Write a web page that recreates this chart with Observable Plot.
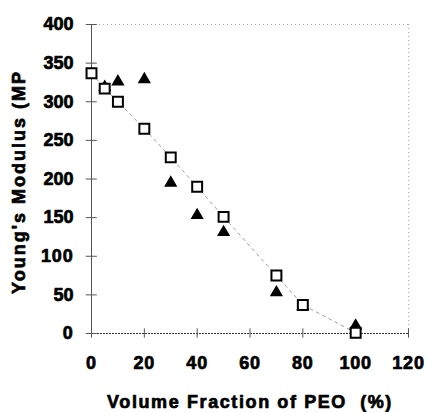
<!DOCTYPE html>
<html><head><meta charset="utf-8">
<script src="https://cdn.jsdelivr.net/npm/d3@7"></script>
<script src="https://cdn.jsdelivr.net/npm/@observablehq/plot@0.6"></script>
<style>body{margin:0;background:#fff}</style>
</head><body><div id="chart"></div>
<script>
const squareX = [0, 5, 10, 20, 30, 40, 50, 70, 80, 100];
const squareY = [337, 317, 300, 265, 228, 190, 151, 75, 37, 1];
const triX = [5, 10, 20, 30, 40, 50, 70, 80, 100];
const triY = [319, 326, 329, 195, 153, 131, 53, 35, 10];
const xTicks = [0, 20, 40, 60, 80, 100, 120];
const yTicks = [0, 50, 100, 150, 200, 250, 300, 350, 400];
const xTitle = "Volume Fraction of PEO  (%)";
const yTitle = "Young's Modulus (MP";

const squares = squareX.map((x, i) => ({x, y: squareY[i]}));
const tris = triX.map((x, i) => ({x, y: triY[i]}));
const font = "'Liberation Sans', Arial, sans-serif";
const txt = {fontSize: 18, fontWeight: "bold", fill: "#000", stroke: "#000", strokeWidth: 0.7};

const plot = Plot.plot({
  width: 428, height: 412,
  marginLeft: 91, marginRight: 20, marginTop: 24, marginBottom: 79,
  style: {fontFamily: font, fontWeight: "bold", color: "#000", background: "#fff", overflow: "visible"},
  x: {domain: [0, 120], axis: null},
  y: {domain: [0, 400], axis: null},
  marks: [
    Plot.ruleY([400], {stroke: "#aaa", strokeDasharray: "1,3"}),
    Plot.ruleX([120], {stroke: "#aaa", strokeDasharray: "1,3"}),
    Plot.ruleX([0], {stroke: "#555", strokeWidth: 1}),
    Plot.ruleY([0], {stroke: "#333", strokeDasharray: "2,1", strokeWidth: 1.2}),
    Plot.ruleY(yTicks, {y: d => d, x1: -2, x2: 2.2, stroke: "#555"}),
    Plot.ruleX(xTicks, {x: d => d, y1: -6, y2: 6, stroke: "#555"}),
    Plot.text(yTicks, {x: 0, y: d => d, text: d => String(d), dx: -18, textAnchor: "end", lineAnchor: "middle", ...txt}),
    Plot.text(xTicks, {x: d => d, y: 0, text: d => String(d), dy: 30, textAnchor: "middle", lineAnchor: "middle", ...txt}),
    Plot.line(squares, {x: "x", y: "y", stroke: "#888", strokeWidth: 0.8, strokeDasharray: "3,4"}),
    Plot.dot(tris, {x: "x", y: "y", symbol: "triangle", r: 4.9, fill: "#000", stroke: "none"}),
    Plot.dot(squares, {x: "x", y: "y", symbol: "square", r: 5.6, fill: "#fff", stroke: "#000", strokeWidth: 2}),
    Plot.text([xTitle], {frameAnchor: "bottom", dy: 69, text: d => d, textAnchor: "middle", lineAnchor: "middle", ...txt}),
    Plot.text([yTitle], {frameAnchor: "left", dx: -72, dy: 3, rotate: -90, text: d => d, textAnchor: "middle", lineAnchor: "middle", ...txt})
  ]
});
const sel = d3.select(plot);
sel.selectAll("text").each(function() {
  const t = this.textContent;
  if (t === xTitle) d3.select(this).style("letter-spacing", "1.6px").style("white-space", "pre");
  else if (t === yTitle) d3.select(this).style("letter-spacing", "2px");
  else if (xTicks.map(String).includes(t)) d3.select(this).style("letter-spacing", "0.8px");
});
document.getElementById("chart").appendChild(plot);
</script>
</body></html>
